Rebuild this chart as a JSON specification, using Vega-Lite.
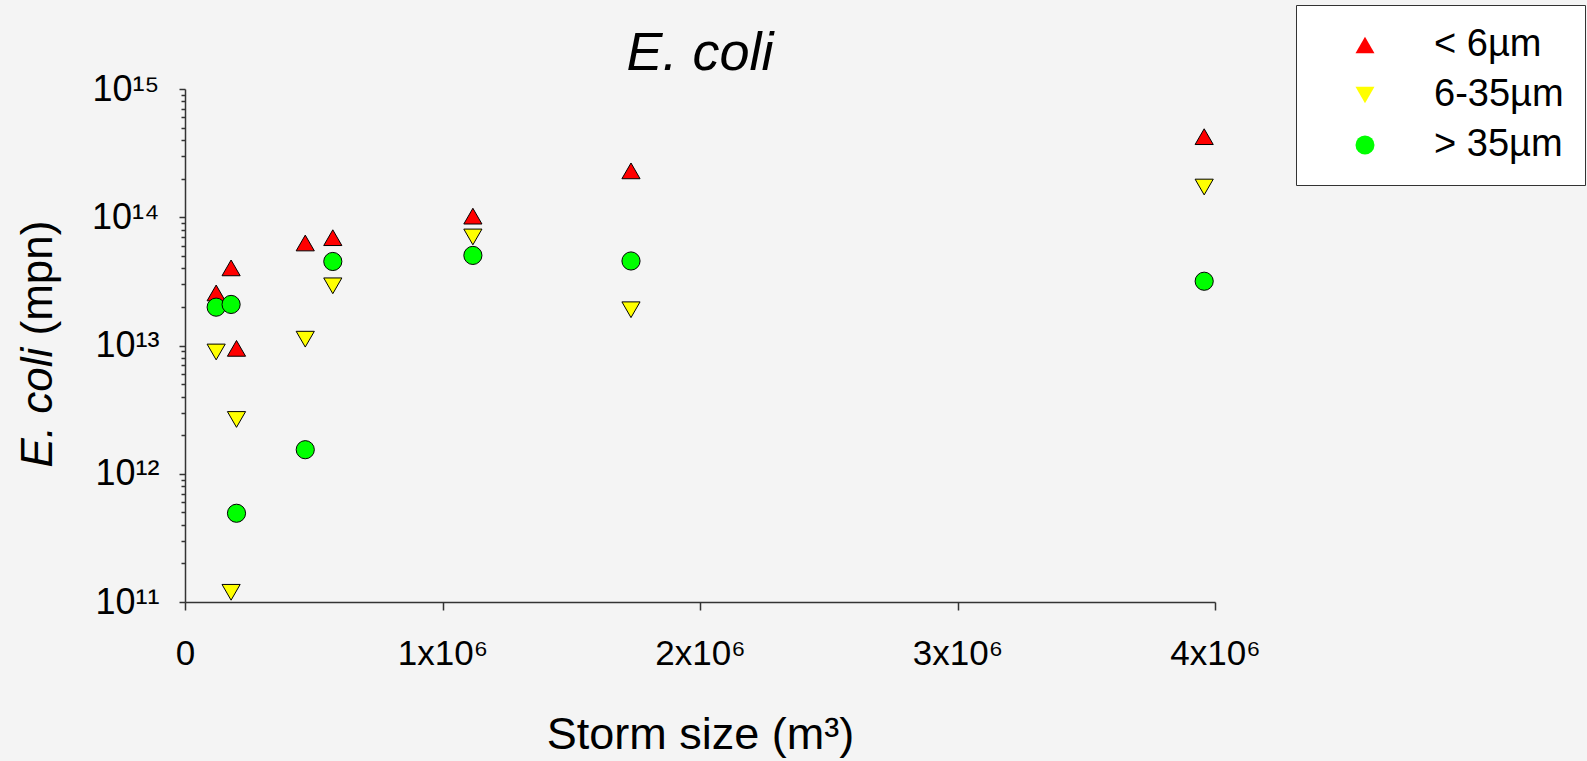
{
  "$schema": "https://vega.github.io/schema/vega-lite/v6.json",
  "width": 1030,
  "height": 513,
  "autosize": {"type": "none"},
  "padding": {"left": 185, "top": 89, "right": 372, "bottom": 159},
  "background": "#f4f4f4",
  "config": {
    "font": "Liberation Sans",
    "view": {"stroke": null},
    "axis": {"grid": false, "domainColor": "#333333", "tickColor": "#333333", "domainWidth": 1.5, "tickWidth": 1.5, "labelColor": "black", "titleColor": "black", "titleFontWeight": "normal"}
  },
  "title": {"text": "E. coli", "fontSize": 54, "fontStyle": "italic", "fontWeight": "normal", "anchor": "middle", "frame": "group", "baseline": "alphabetic", "offset": -119, "color": "black"},
  "data": {"values": [
    {"storm": 121000, "ecoli": 2.57e13, "size": "< 6µm"},
    {"storm": 179000, "ecoli": 4.03e13, "size": "< 6µm"},
    {"storm": 200000, "ecoli": 9.5e12, "size": "< 6µm"},
    {"storm": 467000, "ecoli": 6.3e13, "size": "< 6µm"},
    {"storm": 574000, "ecoli": 6.93e13, "size": "< 6µm"},
    {"storm": 1118000, "ecoli": 1.02e14, "size": "< 6µm"},
    {"storm": 1732000, "ecoli": 2.3e14, "size": "< 6µm"},
    {"storm": 3958000, "ecoli": 4.25e14, "size": "< 6µm"},
    {"storm": 121000, "ecoli": 8.9e12, "size": "6-35µm"},
    {"storm": 179000, "ecoli": 1.19e11, "size": "6-35µm"},
    {"storm": 200000, "ecoli": 2.65e12, "size": "6-35µm"},
    {"storm": 467000, "ecoli": 1.12e13, "size": "6-35µm"},
    {"storm": 574000, "ecoli": 2.92e13, "size": "6-35µm"},
    {"storm": 1118000, "ecoli": 7.02e13, "size": "6-35µm"},
    {"storm": 1732000, "ecoli": 1.9e13, "size": "6-35µm"},
    {"storm": 3958000, "ecoli": 1.72e14, "size": "6-35µm"},
    {"storm": 121000, "ecoli": 1.99e13, "size": "> 35µm"},
    {"storm": 179000, "ecoli": 2.09e13, "size": "> 35µm"},
    {"storm": 200000, "ecoli": 4.92e11, "size": "> 35µm"},
    {"storm": 467000, "ecoli": 1.54e12, "size": "> 35µm"},
    {"storm": 574000, "ecoli": 4.52e13, "size": "> 35µm"},
    {"storm": 1118000, "ecoli": 5.04e13, "size": "> 35µm"},
    {"storm": 1732000, "ecoli": 4.56e13, "size": "> 35µm"},
    {"storm": 3958000, "ecoli": 3.17e13, "size": "> 35µm"}
  ]},
  "layer": [
    {
      "mark": {"type": "point", "filled": true, "stroke": "black", "strokeWidth": 1, "size": 330, "opacity": 1},
      "encoding": {
        "x": {
          "field": "storm", "type": "quantitative",
          "scale": {"domain": [0, 4000000], "nice": false, "zero": false},
          "axis": {
            "values": [0, 1000000, 2000000, 3000000, 4000000],
            "tickSize": 8, "labelPadding": 26, "labelFontSize": 35, "labelFlush": false, "labelOverlap": false,
            "labelExpr": "datum.value == 0 ? '0' : format(datum.value / 1000000, 'd') + 'x10\u2076'",
            "title": "Storm size (m\u00b3)", "titleFontSize": 45, "titlePadding": 41
          }
        },
        "y": {
          "field": "ecoli", "type": "quantitative",
          "scale": {"type": "log", "domain": [1e11, 1e15], "nice": false},
          "axis": {
            "values": [1e11, 1e12, 1e13, 1e14, 1e15],
            "tickSize": 6, "labelPadding": 20, "labelFontSize": 36, "labelOverlap": false, "labelFlush": false,
            "labelExpr": "datum.value > 5e14 ? '10\u00b9\u2075' : datum.value > 5e13 ? '10\u00b9\u2074' : datum.value > 5e12 ? '10\u00b9\u00b3' : datum.value > 5e11 ? '10\u00b9\u00b2' : '10\u00b9\u00b9'",
            "title": "E. coli", "titleFontStyle": "italic", "titleFontSize": 44, "titleAngle": 270,
            "titleAlign": "left", "titleBaseline": "middle", "titleX": -147, "titleY": 378
          }
        },
        "shape": {
          "field": "size", "type": "nominal",
          "scale": {"domain": ["< 6µm", "6-35µm", "> 35µm"], "range": ["triangle-up", "triangle-down", "circle"]},
          "legend": {
            "title": null, "orient": "none", "legendX": 1111, "legendY": -84,
            "fillColor": "white", "strokeColor": "#333333", "padding": 21,
            "symbolOffset": 29, "labelOffset": 50, "labelFontSize": 38, "rowPadding": 12,
            "symbolSize": 360, "symbolStrokeColor": "black", "symbolStrokeWidth": 1,
            "labelExpr": "datum.label + '\u00a0\u00a0'"
          }
        },
        "fill": {
          "field": "size", "type": "nominal",
          "scale": {"domain": ["< 6µm", "6-35µm", "> 35µm"], "range": ["#ff0000", "#ffff00", "#00ff00"]},
          "legend": {
            "title": null, "orient": "none", "legendX": 1111, "legendY": -84,
            "fillColor": "white", "strokeColor": "#333333", "padding": 21,
            "symbolOffset": 29, "labelOffset": 50, "labelFontSize": 38, "rowPadding": 12,
            "symbolSize": 360, "symbolStrokeColor": "black", "symbolStrokeWidth": 1,
            "labelExpr": "datum.label + '\u00a0\u00a0'"
          }
        }
      }
    },
    {
      "mark": {"type": "point", "opacity": 0},
      "encoding": {
        "x": {"field": "storm", "type": "quantitative"},
        "y": {
          "field": "ecoli", "type": "quantitative",
          "axis": {
            "orient": "left", "domain": false, "labels": false, "tickSize": 4,
            "values": [2e11, 3e11, 4e11, 5e11, 6e11, 7e11, 8e11, 9e11, 2e12, 3e12, 4e12, 5e12, 6e12, 7e12, 8e12, 9e12, 2e13, 3e13, 4e13, 5e13, 6e13, 7e13, 8e13, 9e13, 2e14, 3e14, 4e14, 5e14, 6e14, 7e14, 8e14, 9e14],
            "title": "(mpn)", "titleFontSize": 44, "titleAngle": 270,
            "titleAlign": "left", "titleBaseline": "middle", "titleX": -147, "titleY": 246
          }
        }
      }
    }
  ],
  "resolve": {"axis": {"y": "independent"}}
}
